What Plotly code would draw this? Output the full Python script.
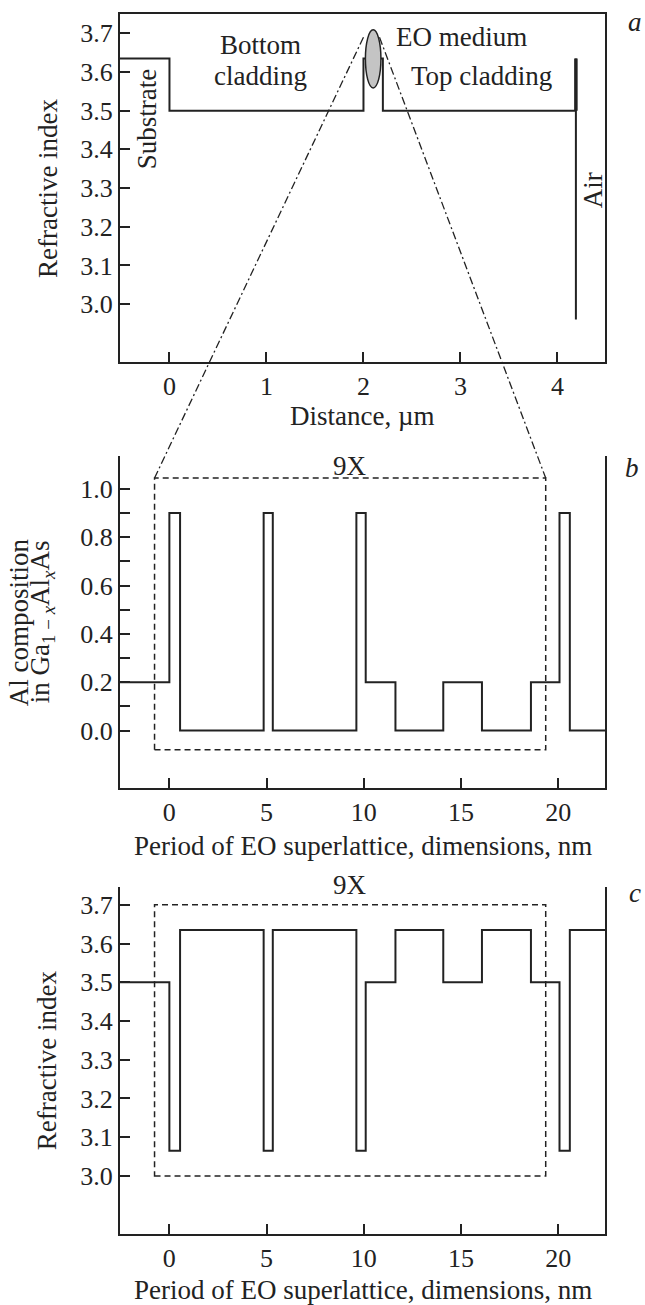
import plotly.graph_objects as go

# ---------------- data ----------------
# panel a: refractive index profile of the waveguide
a_dist = [-0.51, 0.0, 2.0, 2.2, 4.19]
a_index = [3.635, 3.5, 3.635, 3.5, 3.5]
air_x = 4.19
air_top, air_mid, air_bottom = 3.635, 3.5, 2.96
eo_center_x, eo_halfwidth = 2.1, 0.08
eo_y0, eo_y1 = 3.559, 3.709

# panels b, c: one period of the EO superlattice
sl_nm = [-2.54, 0.0, 0.55, 4.85, 5.32, 9.62, 10.1, 11.63, 14.09, 16.08, 18.6, 20.07, 20.6, 22.41]
al_comp = [0.2, 0.9, 0.0, 0.9, 0.0, 0.9, 0.2, 0.0, 0.2, 0.0, 0.2, 0.9, 0.0, 0.0]
sl_index = [3.5, 3.065, 3.635, 3.065, 3.635, 3.065, 3.5, 3.635, 3.5, 3.635, 3.5, 3.065, 3.635, 3.635]
period_box_x = [-0.763, 19.36]
box_b_y = [-0.08, 1.045]
box_c_y = [3.0, 3.70]

a_xticks = [0, 1, 2, 3, 4]
n_ticks = [3.0, 3.1, 3.2, 3.3, 3.4, 3.5, 3.6, 3.7]
b_xticks = [0, 5, 10, 15, 20]
comp_ticks = [0.0, 0.1, 0.2, 0.3, 0.4, 0.5, 0.6, 0.7, 0.8, 0.9, 1.0]

# ---------------- layout geometry ----------------
FONT = "Liberation Serif, Times New Roman, serif"
INK = "#222222"
FS = 27
FT = 26
W, H = 645, 1305
ML, MR, MT, MB = 120, 40, 12, 71

xr_a = [-0.51, 4.49]
xr_b = [-2.54, 22.41]
yr_a = [2.85, 3.75]
yr_b = [-0.238, 1.135]
yr_c = [2.85, 3.747]
plot_h = H - MT - MB
def dom(top_px, bot_px):
    return [(H - MB - bot_px) / plot_h, (H - MB - top_px) / plot_h]
dom_a = dom(12, 360.7)
dom_b = dom(455, 787.3)
dom_c = [0.0, dom(886, 1234)[1]]

def px(x, xr):
    return (x - xr[0]) / (xr[1] - xr[0])
def py(y, yr, d):
    return d[0] + (y - yr[0]) / (yr[1] - yr[0]) * (d[1] - d[0])
def pxl(xpix):
    return (xpix - ML) / (W - ML - MR)
def pyl(ypix):
    return (H - MB - ypix) / plot_h

fig = go.Figure()
line = dict(color=INK, width=2, shape="hv")
fig.add_trace(go.Scatter(x=a_dist, y=a_index, mode="lines", line=line,
                         xaxis="x", yaxis="y", hoverinfo="skip"))
fig.add_trace(go.Scatter(x=[air_x, air_x], y=[air_top, air_bottom], mode="lines",
                         line=dict(color=INK, width=2), xaxis="x", yaxis="y", hoverinfo="skip"))
fig.add_trace(go.Scatter(x=[air_x, air_x], y=[air_top, air_mid], mode="lines",
                         line=dict(color=INK, width=3.5), xaxis="x", yaxis="y", hoverinfo="skip"))
fig.add_trace(go.Scatter(x=sl_nm, y=al_comp, mode="lines", line=line,
                         xaxis="x2", yaxis="y2", hoverinfo="skip"))
fig.add_trace(go.Scatter(x=sl_nm, y=sl_index, mode="lines", line=line,
                         xaxis="x3", yaxis="y3", hoverinfo="skip"))

shapes = []
# EO medium ellipse
shapes.append(dict(type="circle", xref="x", yref="y",
                   x0=eo_center_x - eo_halfwidth, x1=eo_center_x + eo_halfwidth,
                   y0=eo_y0, y1=eo_y1, fillcolor="#c4c4c4",
                   line=dict(color=INK, width=1.5), layer="above"))
# dashed period boxes
dash = "6px,4px"
shapes.append(dict(type="rect", xref="x2", yref="y2", x0=period_box_x[0], x1=period_box_x[1],
                   y0=box_b_y[0], y1=box_b_y[1], line=dict(color=INK, width=1.5, dash=dash)))
shapes.append(dict(type="rect", xref="x3", yref="y3", x0=period_box_x[0], x1=period_box_x[1],
                   y0=box_c_y[0], y1=box_c_y[1], line=dict(color=INK, width=1.5, dash=dash)))
# dash-dot zoom connectors from the EO layer (panel a) to the period box (panel b)
dd = "8px,3px,2px,3px"
starts = [(2.0, 3.69), (2.165, 3.69)]
ends = [(period_box_x[0], box_b_y[1]), (period_box_x[1], box_b_y[1])]
for (sx, sy), (ex, ey) in zip(starts, ends):
    shapes.append(dict(type="line", xref="paper", yref="paper",
                       x0=px(sx, xr_a), y0=py(sy, yr_a, dom_a),
                       x1=px(ex, xr_b), y1=py(ey, yr_b, dom_b),
                       line=dict(color=INK, width=1.3, dash=dd)))

tf = dict(family=FONT, size=FS, color=INK)
tkf = dict(family=FONT, size=FT, color=INK)
ann = []
def text(t, x, y, xref, yref, angle=0, **kw):
    d = dict(text=t, x=x, y=y, xref=xref, yref=yref, showarrow=False, font=tf,
             textangle=angle, xanchor="center", yanchor="middle")
    d.update(kw)
    ann.append(d)

# panel a labels
text("Bottom", 0.939, 3.669, "x", "y")
text("cladding", 0.939, 3.590, "x", "y")
text("EO medium", 3.015, 3.690, "x", "y")
text("Top cladding", 3.216, 3.590, "x", "y")
text("Substrate", -0.237, 3.479, "x", "y", angle=-90)
text("Air", 4.369, 3.295, "x", "y", angle=-90)
text("9X", 9.29, 1.094, "x2", "y2")
text("9X", 9.29, py(3.75, yr_c, dom_c), "x3", "paper")

# axis titles
text("Refractive index", pxl(48), 0.5, "paper", "y domain", angle=-90)
text("Al composition", pxl(19), 0.5, "paper", "y2 domain", angle=-90)
text("in Ga<sub>1 − <i>x</i></sub>Al<sub><i>x</i></sub>As", pxl(42), 0.5, "paper", "y2 domain", angle=-90)
text("Refractive index", pxl(47), 0.5, "paper", "y3 domain", angle=-90)
text("Distance, µm", 0.5, pyl(415), "x domain", "paper")
text("Period of EO superlattice, dimensions, nm", 0.5, pyl(845), "x2 domain", "paper")
text("Period of EO superlattice, dimensions, nm", 0.5, pyl(1290), "x3 domain", "paper")

# panel letters
text("<i>a</i>", pxl(635), pyl(20), "paper", "paper")
text("<i>b</i>", pxl(632), pyl(467), "paper", "paper")
text("<i>c</i>", pxl(635), pyl(892), "paper", "paper")

def xax(rng, ticks, anchor, mirror):
    return dict(range=rng, domain=[0, 1], anchor=anchor, showline=True, mirror=mirror,
                linecolor=INK, linewidth=2, ticks="inside", ticklen=10, tickwidth=1.5,
                tickcolor=INK, tickvals=ticks, ticktext=[str(t) for t in ticks],
                tickfont=tkf, showgrid=False, zeroline=False, fixedrange=True)

def yax(rng, d, ticks, labels, anchor):
    return dict(range=rng, domain=d, anchor=anchor, showline=True, mirror=True,
                linecolor=INK, linewidth=2, ticks="inside", ticklen=10, tickwidth=1.5,
                tickcolor=INK, tickvals=ticks, ticktext=labels, tickfont=tkf,
                showgrid=False, zeroline=False, fixedrange=True)

n_labels = [f"{v:.1f}" for v in n_ticks]
comp_labels = [f"{v:.1f}" if round(v * 10) % 2 == 0 else "" for v in comp_ticks]

fig.update_layout(
    width=W, height=H, autosize=False,
    margin=dict(l=ML, r=MR, t=MT, b=MB),
    paper_bgcolor="white", plot_bgcolor="white",
    showlegend=False,
    font=tf,
    xaxis=xax(xr_a, a_xticks, "y", True),
    xaxis2=xax(xr_b, b_xticks, "y2", False),
    xaxis3=xax(xr_b, b_xticks, "y3", False),
    yaxis=yax(yr_a, dom_a, n_ticks, n_labels, "x"),
    yaxis2=yax(yr_b, dom_b, comp_ticks, comp_labels, "x2"),
    yaxis3=yax(yr_c, dom_c, n_ticks, n_labels, "x3"),
    shapes=shapes,
    annotations=ann,
)

fig.write_html("out.html")
